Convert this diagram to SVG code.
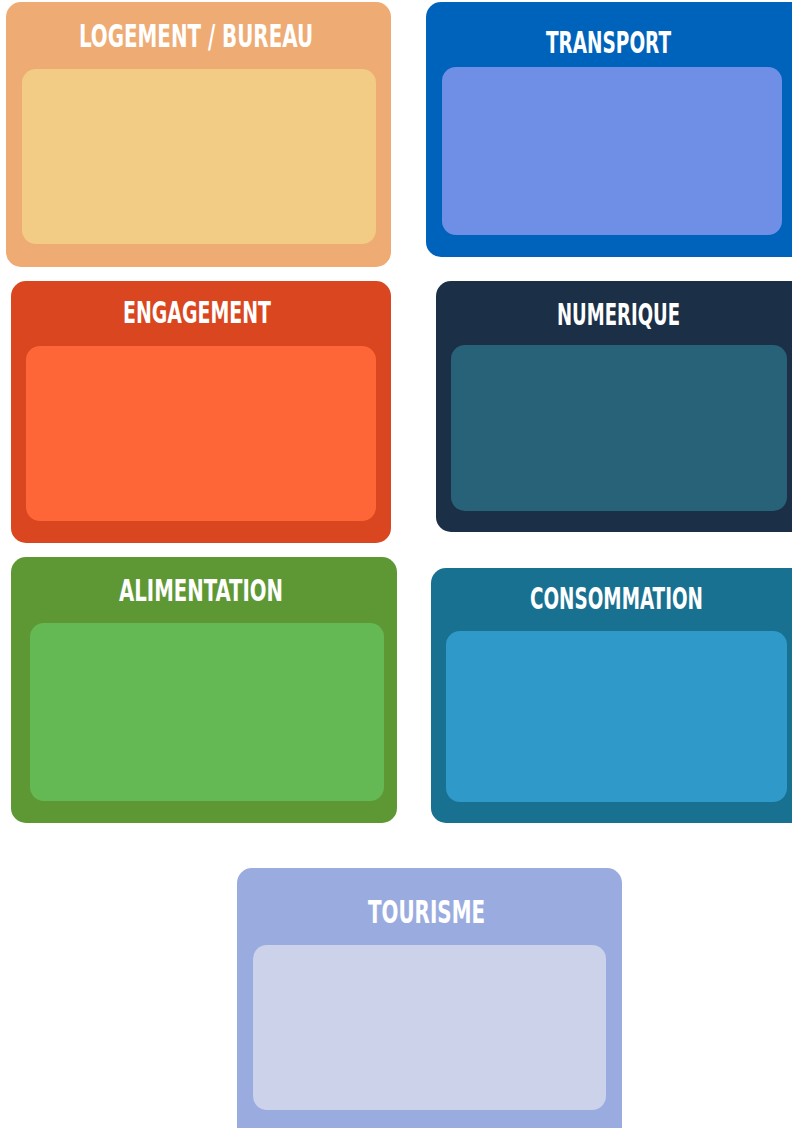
<svg xmlns="http://www.w3.org/2000/svg" width="792" height="1128" viewBox="0 0 792 1128">
<style>
.t{font-family:"DejaVu Sans Condensed","DejaVu Sans","Liberation Sans",sans-serif;font-stretch:condensed;font-weight:bold;fill:#ffffff;}
</style>
<rect width="792" height="1128" fill="#ffffff"/>
<g id="logement">
<rect x="6" y="2" width="385" height="265" rx="15" fill="#EEAB74"/>
<rect x="22" y="69" width="354" height="175" rx="14" fill="#F2CB84"/>
<text class="t" x="79" y="47" font-size="32" textLength="234" lengthAdjust="spacingAndGlyphs">LOGEMENT / BUREAU</text>
</g>
<g id="transport">
<rect x="426" y="2" width="380" height="255" rx="15" fill="#0063BB"/>
<rect x="442" y="67" width="340" height="168" rx="14" fill="#6F8EE6"/>
<text class="t" x="546" y="53" font-size="30" textLength="125" lengthAdjust="spacingAndGlyphs">TRANSPORT</text>
</g>
<g id="engagement">
<rect x="11" y="281" width="380" height="262" rx="15" fill="#D9461F"/>
<rect x="26" y="346" width="350" height="175" rx="14" fill="#FF6637"/>
<text class="t" x="123" y="323" font-size="30" textLength="148" lengthAdjust="spacingAndGlyphs">ENGAGEMENT</text>
</g>
<g id="numerique">
<rect x="436" y="281" width="370" height="251" rx="15" fill="#1B2F47"/>
<rect x="451" y="345" width="336" height="166" rx="14" fill="#286278"/>
<text class="t" x="557" y="325" font-size="30" textLength="123" lengthAdjust="spacingAndGlyphs">NUMERIQUE</text>
</g>
<g id="alimentation">
<rect x="11" y="557" width="386" height="266" rx="15" fill="#5E9835"/>
<rect x="30" y="623" width="354" height="178" rx="14" fill="#64B954"/>
<text class="t" x="119" y="601" font-size="31" textLength="164" lengthAdjust="spacingAndGlyphs">ALIMENTATION</text>
</g>
<g id="consommation">
<rect x="431" y="568" width="375" height="255" rx="15" fill="#187191"/>
<rect x="446" y="631" width="341" height="171" rx="14" fill="#2F9AC9"/>
<text class="t" x="530" y="609" font-size="30" textLength="173" lengthAdjust="spacingAndGlyphs">CONSOMMATION</text>
</g>
<g id="tourisme">
<rect x="237" y="868" width="385" height="275" rx="15" fill="#9AACDF"/>
<rect x="253" y="945" width="353" height="165" rx="14" fill="#CBD2EA"/>
<text class="t" x="368" y="923" font-size="32" textLength="117" lengthAdjust="spacingAndGlyphs">TOURISME</text>
</g>
<g id="connectors"/>
</svg>
